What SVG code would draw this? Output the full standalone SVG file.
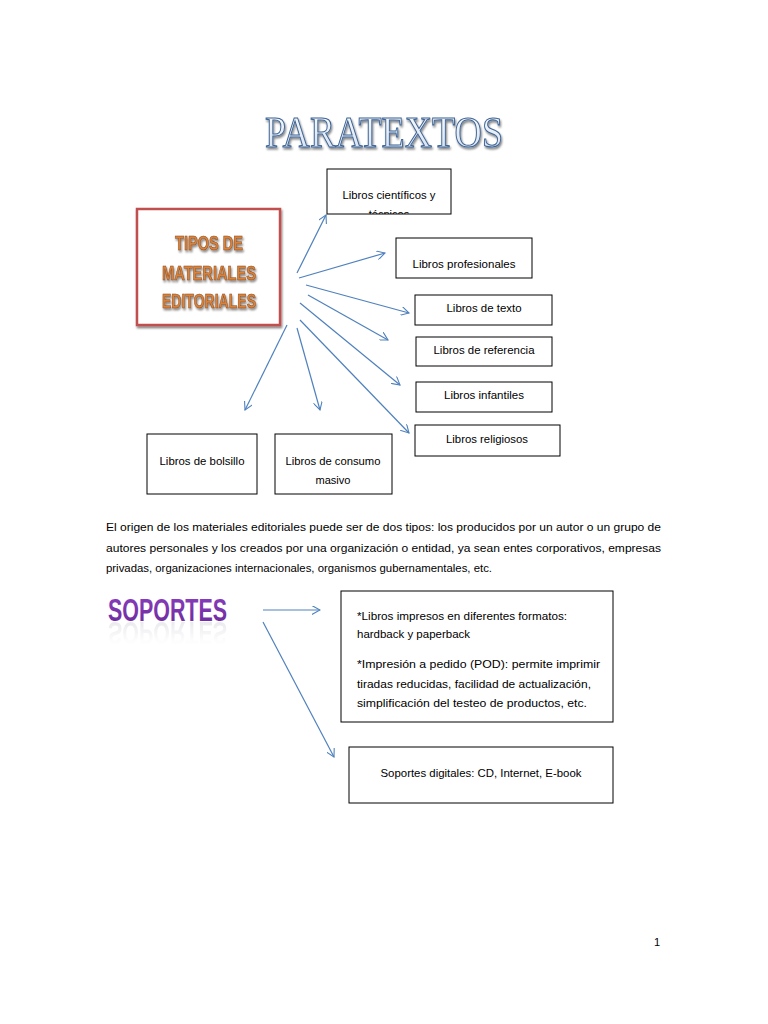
<svg xmlns="http://www.w3.org/2000/svg" xmlns:xlink="http://www.w3.org/1999/xlink" width="768" height="1024" viewBox="0 0 768 1024">
<style>
.box{fill:#fff;stroke:#000;stroke-width:1}
.t{font-family:"Liberation Sans",Arial,sans-serif;font-size:11px;fill:#000}
.c{text-anchor:middle}
.conn line{stroke:#4F81BD;stroke-width:1.2;fill:none;marker-end:url(#ah)}
</style>
<defs>
<marker id="ah" viewBox="0 0 10 10" refX="9" refY="5" markerWidth="9" markerHeight="9" markerUnits="userSpaceOnUse" orient="auto">
<path d="M0,0 L9,5 L0,10" fill="none" stroke="#4F81BD" stroke-width="1.2"/>
</marker>
<linearGradient id="tg" x1="0" y1="0" x2="0" y2="1">
<stop offset="0" stop-color="#ffffff"/><stop offset="1" stop-color="#cfdcee"/>
</linearGradient>
<linearGradient id="pg" x1="0" y1="0" x2="0" y2="1">
<stop offset="0" stop-color="#8B3FC0"/><stop offset="1" stop-color="#6A2A9A"/>
</linearGradient>
<linearGradient id="rg" x1="0" y1="0" x2="0" y2="1">
<stop offset="0" stop-color="#fff" stop-opacity="0.1"/><stop offset="0.7" stop-color="#fff" stop-opacity="0.9"/><stop offset="1" stop-color="#fff" stop-opacity="1"/>
</linearGradient>
<filter id="sh" x="-10%" y="-10%" width="130%" height="130%">
<feGaussianBlur in="SourceAlpha" stdDeviation="1.2"/><feOffset dx="1" dy="1.5" result="b"/>
<feComponentTransfer><feFuncA type="linear" slope="0.5"/></feComponentTransfer>
<feMerge><feMergeNode/><feMergeNode in="SourceGraphic"/></feMerge>
</filter>
<filter id="refl" x="-5%" y="-5%" width="110%" height="140%">
<feColorMatrix in="SourceAlpha" type="matrix" values="0 0 0 0 0.6  0 0 0 0 0.58  0 0 0 0 0.65  0 0 0 0.45 0" result="s"/>
<feGaussianBlur in="s" stdDeviation="0.7"/>
</filter>
<clipPath id="clipSci"><rect x="327" y="169" width="124" height="45"/></clipPath>
</defs>
<rect width="768" height="1024" fill="#fff"/>

<g id="title">
<text x="265" y="147" font-family="'Liberation Serif',serif" font-size="45" textLength="238" lengthAdjust="spacingAndGlyphs" fill="url(#tg)" stroke="#3E6496" stroke-width="1.1" filter="url(#sh)">PARATEXTOS</text>
</g>

<g class="conn">
<line x1="297" y1="273" x2="326" y2="215"/>
<line x1="299" y1="278" x2="385" y2="253"/>
<line x1="306" y1="285" x2="409" y2="313"/>
<line x1="308" y1="295" x2="388" y2="340"/>
<line x1="300" y1="303" x2="400" y2="385"/>
<line x1="300" y1="320" x2="409" y2="433"/>
<line x1="287" y1="325" x2="245" y2="410"/>
<line x1="297" y1="328" x2="320" y2="410"/>
<line x1="263" y1="610" x2="320" y2="610"/>
<line x1="263" y1="622" x2="334" y2="757"/>
</g>

<g id="tipos">
<rect x="137" y="209" width="143" height="116" fill="#fff" stroke="#C0504D" stroke-width="2.5" filter="url(#sh)"/>
<g font-family="'Liberation Sans',Arial,sans-serif" font-weight="bold" font-size="20" fill="#D9823B" stroke="#8A4A1C" stroke-width="0.6" filter="url(#sh)" text-anchor="middle">
<text x="209" y="250" textLength="68" lengthAdjust="spacingAndGlyphs">TIPOS DE</text>
<text x="209" y="280" textLength="94" lengthAdjust="spacingAndGlyphs">MATERIALES</text>
<text x="209" y="308" textLength="94" lengthAdjust="spacingAndGlyphs">EDITORIALES</text>
</g>
</g>

<g id="n-cientificos">
<rect class="box" x="327" y="169" width="124" height="45"/>
<text class="t c" x="389" y="199" textLength="93" lengthAdjust="spacingAndGlyphs">Libros científicos y</text>
<text class="t c" x="389" y="218" clip-path="url(#clipSci)">técnicos</text>
</g>
<g id="n-profesionales">
<rect class="box" x="396" y="238" width="136" height="40"/>
<text class="t c" x="464" y="268" textLength="103" lengthAdjust="spacingAndGlyphs">Libros profesionales</text>
</g>
<g id="n-texto">
<rect class="box" x="415" y="295" width="137" height="30"/>
<text class="t c" x="484" y="312" textLength="75" lengthAdjust="spacingAndGlyphs">Libros de texto</text>
</g>
<g id="n-referencia">
<rect class="box" x="416" y="337" width="136" height="29"/>
<text class="t c" x="484" y="354" textLength="101" lengthAdjust="spacingAndGlyphs">Libros de referencia</text>
</g>
<g id="n-infantiles">
<rect class="box" x="416" y="382" width="136" height="30"/>
<text class="t c" x="484" y="399" textLength="80" lengthAdjust="spacingAndGlyphs">Libros infantiles</text>
</g>
<g id="n-religiosos">
<rect class="box" x="415" y="425" width="145" height="31"/>
<text class="t c" x="487" y="443" textLength="82" lengthAdjust="spacingAndGlyphs">Libros religiosos</text>
</g>
<g id="n-bolsillo">
<rect class="box" x="147" y="434" width="110" height="60"/>
<text class="t c" x="202" y="465" textLength="85" lengthAdjust="spacingAndGlyphs">Libros de bolsillo</text>
</g>
<g id="n-masivo">
<rect class="box" x="275" y="434" width="117" height="60"/>
<text class="t c" x="333" y="465" textLength="95" lengthAdjust="spacingAndGlyphs">Libros de consumo</text>
<text class="t c" x="333" y="484" textLength="35" lengthAdjust="spacingAndGlyphs">masivo</text>
</g>

<g id="parrafo">
<text class="t" x="106" y="531" textLength="555" lengthAdjust="spacingAndGlyphs">El origen de los materiales editoriales puede ser de dos tipos: los producidos por un autor o un grupo de</text>
<text class="t" x="106" y="552" textLength="555" lengthAdjust="spacingAndGlyphs">autores personales y los creados por una organización o entidad, ya sean entes corporativos, empresas</text>
<text class="t" x="106" y="572" textLength="386" lengthAdjust="spacingAndGlyphs">privadas, organizaciones internacionales, organismos gubernamentales, etc.</text>
</g>

<g id="soportes">
<text id="sopText" x="108" y="621" font-family="'Liberation Sans',Arial,sans-serif" font-weight="bold" font-size="32" textLength="119" lengthAdjust="spacingAndGlyphs" fill="url(#pg)">SOPORTES</text>
<use xlink:href="#sopText" href="#sopText" transform="translate(0,1243) scale(1,-1)" filter="url(#refl)"/>
<rect x="104" y="622" width="128" height="26" fill="url(#rg)"/>
</g>

<g id="n-impresos">
<rect class="box" x="341" y="591" width="272" height="131"/>
<text class="t" x="357" y="620" textLength="210" lengthAdjust="spacingAndGlyphs">*Libros impresos en diferentes formatos:</text>
<text class="t" x="357" y="638" textLength="113" lengthAdjust="spacingAndGlyphs">hardback y paperback</text>
<text class="t" x="357" y="668" textLength="243" lengthAdjust="spacingAndGlyphs">*Impresión a pedido (POD): permite imprimir</text>
<text class="t" x="357" y="688" textLength="234" lengthAdjust="spacingAndGlyphs">tiradas reducidas, facilidad de actualización,</text>
<text class="t" x="357" y="707" textLength="230" lengthAdjust="spacingAndGlyphs">simplificación del testeo de productos, etc.</text>
</g>
<g id="n-digitales">
<rect class="box" x="349" y="747" width="264" height="56"/>
<text class="t c" x="481" y="777" textLength="201" lengthAdjust="spacingAndGlyphs">Soportes digitales: CD, Internet, E-book</text>
</g>

<text class="t" x="654" y="946" font-size="12">1</text>
</svg>
